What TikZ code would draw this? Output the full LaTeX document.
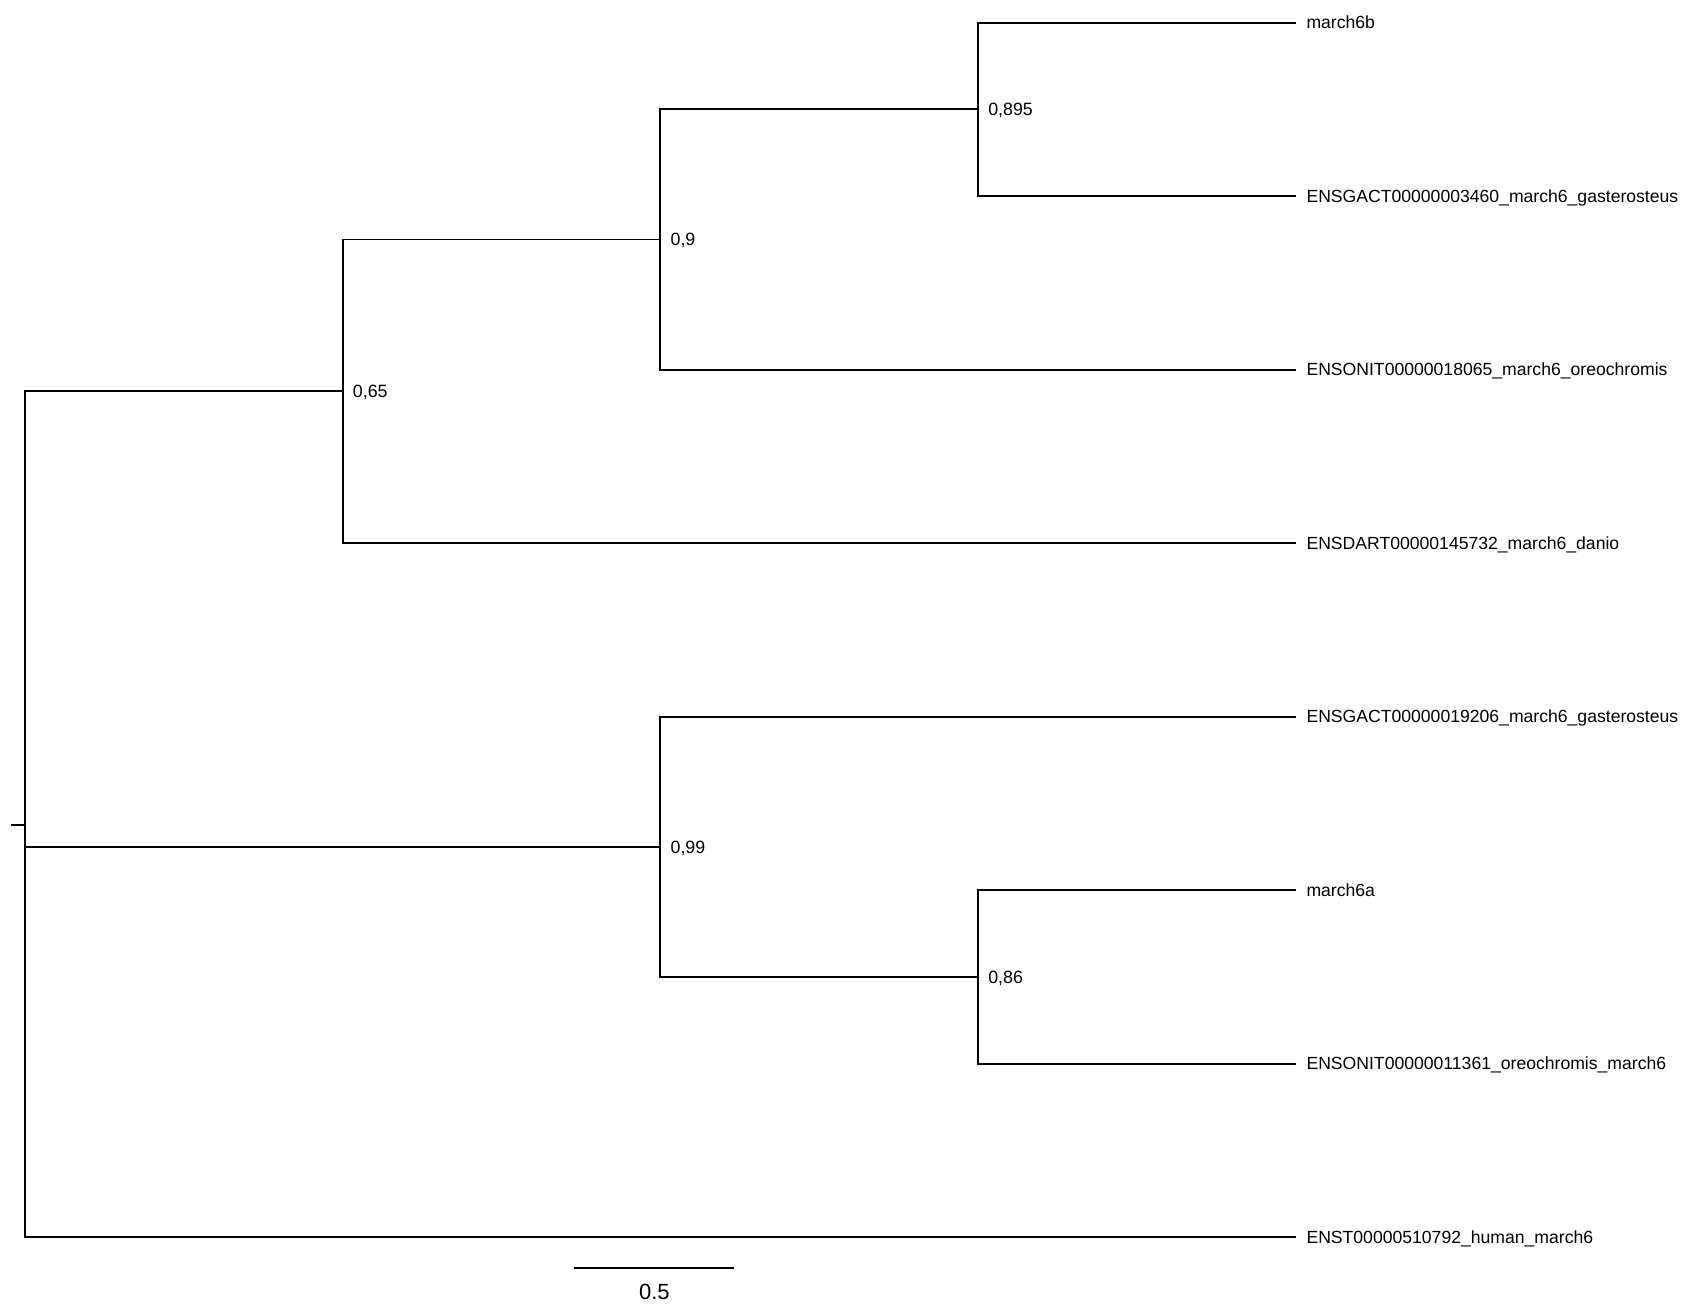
\documentclass[tikz,border=0pt]{standalone}
\usepackage{fontspec}
\setmainfont{Liberation Sans}
\begin{document}
\begin{tikzpicture}[x=1pt,y=-1pt,
  branch/.style={line width=1.9pt, line cap=butt, line join=miter},
  leaflbl/.style={anchor=base west, font=\fontsize{17.6}{20}\selectfont, inner sep=0pt, xshift=10.5pt, yshift=-6.3pt},
  supportlbl/.style={anchor=base west, font=\fontsize{17.8}{20}\selectfont, inner sep=0pt, xshift=10pt, yshift=-6.3pt},
  scalelbl/.style={anchor=center, font=\fontsize{22}{24}\selectfont, inner sep=0pt}]
\useasboundingbox (0,0) rectangle (1685,1306);
% tree coordinates
\coordinate (stub) at (11,825);
\coordinate (root) at (25,825);
\coordinate (n065) at (342.7,391.3);
\coordinate (n09) at (660.4,239.5);
\coordinate (n0895) at (978.1,109.4);
\coordinate (n099) at (660.4,846.7);
\coordinate (n086) at (978.1,976.9);
\coordinate (l1) at (1295.8,22.6);
\coordinate (l2) at (1295.8,196.1);
\coordinate (l3) at (1295.8,369.6);
\coordinate (l4) at (1295.8,543.1);
\coordinate (l5) at (1295.8,716.6);
\coordinate (l6) at (1295.8,890.1);
\coordinate (l7) at (1295.8,1063.6);
\coordinate (l8) at (1295.8,1237.1);
% branches
\draw[branch] (stub) -- (root);
\draw[branch] (root) |- (n065);
\draw[branch] (root) |- (n099);
\draw[branch] (root) |- (l8);
\draw[branch] (n065) |- (n09);
\draw[branch] (n065) |- (l4);
\draw[branch] (n09) |- (n0895);
\draw[branch] (n09) |- (l3);
\draw[branch] (n0895) |- (l1);
\draw[branch] (n0895) |- (l2);
\draw[branch] (n099) |- (l5);
\draw[branch] (n099) |- (n086);
\draw[branch] (n086) |- (l6);
\draw[branch] (n086) |- (l7);
% support values
\node[supportlbl] (s065) at (n065) {0,65};
\node[supportlbl] (s09) at (n09) {0,9};
\node[supportlbl] (s0895) at (n0895) {0,895};
\node[supportlbl] (s099) at (n099) {0,99};
\node[supportlbl] (s086) at (n086) {0,86};
% leaf labels
\node[leaflbl] (t1) at (l1) {march6b};
\node[leaflbl] (t2) at (l2) {ENSGACT00000003460\_march6\_gasterosteus};
\node[leaflbl] (t3) at (l3) {ENSONIT00000018065\_march6\_oreochromis};
\node[leaflbl] (t4) at (l4) {ENSDART00000145732\_march6\_danio};
\node[leaflbl] (t5) at (l5) {ENSGACT00000019206\_march6\_gasterosteus};
\node[leaflbl] (t6) at (l6) {march6a};
\node[leaflbl] (t7) at (l7) {ENSONIT00000011361\_oreochromis\_march6};
\node[leaflbl] (t8) at (l8) {ENST00000510792\_human\_march6};
% scale bar
\coordinate (sb1) at (574.3,1268.3);
\coordinate (sb2) at (734.3,1268.3);
\draw[branch] (sb1) -- (sb2);
\node[scalelbl] (sbl) at (654.3,1292) {0.5};
\end{tikzpicture}
\end{document}
